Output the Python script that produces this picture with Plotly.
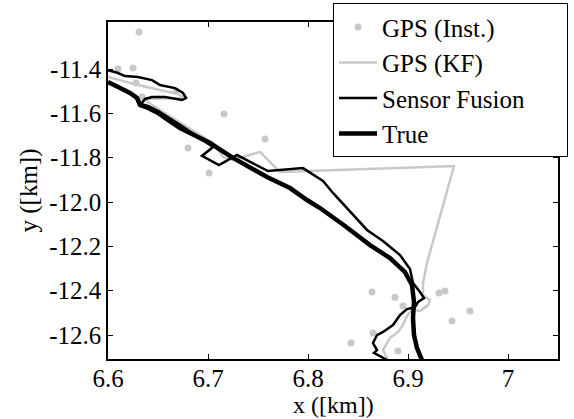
import plotly.graph_objects as go

# GPS instantaneous fixes
gps_inst_x = [6.631, 6.610, 6.625, 6.628, 6.634, 6.668, 6.716, 6.680, 6.701, 6.757,
              6.864, 6.887, 6.895, 6.931, 6.937, 6.962, 6.944, 6.865, 6.843, 6.890]
gps_inst_y = [-11.233, -11.400, -11.396, -11.463, -11.526, -11.499, -11.603, -11.756, -11.869, -11.716,
              -12.406, -12.429, -12.469, -12.410, -12.401, -12.492, -12.537, -12.591, -12.636, -12.672]

# GPS Kalman filtered
gps_kf_x = [6.600, 6.612, 6.630, 6.670, 6.676, 6.635, 6.652, 6.684, 6.705, 6.715, 6.725, 6.752, 6.772,
            6.946, 6.919, 6.915, 6.915, 6.922, 6.920, 6.912, 6.904, 6.899, 6.895, 6.890, 6.882, 6.879,
            6.875, 6.880]
gps_kf_y = [-11.436, -11.450, -11.472, -11.513, -11.531, -11.535, -11.585, -11.675, -11.734, -11.797,
            -11.810, -11.774, -11.865, -11.838, -12.275, -12.365, -12.420, -12.442, -12.465, -12.492,
            -12.483, -12.514, -12.555, -12.586, -12.613, -12.636, -12.668, -12.713]

# Sensor fusion
sf_x = [6.600, 6.610, 6.617, 6.630, 6.644, 6.652, 6.667, 6.675, 6.678, 6.674, 6.657, 6.644, 6.637,
        6.633, 6.640, 6.650, 6.672, 6.705, 6.694, 6.711, 6.729, 6.760, 6.795, 6.815, 6.825, 6.842,
        6.859, 6.875, 6.892, 6.902, 6.905, 6.912, 6.916, 6.910, 6.907, 6.899, 6.892, 6.885, 6.875,
        6.869, 6.865, 6.869, 6.866, 6.872, 6.879]
sf_y = [-11.405, -11.418, -11.432, -11.436, -11.450, -11.472, -11.486, -11.508, -11.531, -11.540,
        -11.526, -11.526, -11.535, -11.558, -11.567, -11.589, -11.652, -11.752, -11.792, -11.833,
        -11.788, -11.860, -11.847, -11.905, -11.959, -12.045, -12.126, -12.176, -12.239, -12.302,
        -12.365, -12.406, -12.433, -12.451, -12.474, -12.483, -12.510, -12.555, -12.586, -12.600,
        -12.636, -12.668, -12.681, -12.695, -12.713]

# True trajectory
true_x = [6.600, 6.610, 6.622, 6.629, 6.632, 6.640, 6.650, 6.657, 6.672, 6.702, 6.725, 6.759, 6.782,
          6.799, 6.812, 6.837, 6.862, 6.882, 6.897, 6.904, 6.906, 6.905, 6.906, 6.909, 6.914]
true_y = [-11.459, -11.481, -11.508, -11.531, -11.562, -11.576, -11.598, -11.621, -11.666, -11.734,
          -11.801, -11.887, -11.937, -11.991, -12.027, -12.108, -12.194, -12.253, -12.316, -12.374,
          -12.451, -12.523, -12.600, -12.659, -12.713]

x_ticks = [6.6, 6.7, 6.8, 6.9, 7.0]
x_tick_text = ["6.6", "6.7", "6.8", "6.9", "7"]
y_ticks = [-11.4, -11.6, -11.8, -12.0, -12.2, -12.4, -12.6]
y_tick_text = ["-11.4", "-11.6", "-11.8", "-12.0", "-12.2", "-12.4", "-12.6"]

GRAY = "#c8c8c8"
FONT = "Liberation Serif"
FS = 25
PAD = "\u00a0" * 6

fig = go.Figure()
fig.add_trace(go.Scatter(x=gps_inst_x, y=gps_inst_y, mode="markers", name="GPS (Inst.)",
                         marker=dict(color=GRAY, size=7, symbol="circle")))
fig.add_trace(go.Scatter(x=gps_kf_x, y=gps_kf_y, mode="lines", name="GPS (KF)",
                         line=dict(color=GRAY, width=2.5)))
fig.add_trace(go.Scatter(x=sf_x, y=sf_y, mode="lines", name="Sensor Fusion" + PAD,
                         line=dict(color="black", width=2.5)))
fig.add_trace(go.Scatter(x=true_x, y=true_y, mode="lines", name="True",
                         line=dict(color="black", width=4.5)))

axis_common = dict(showline=True, linecolor="black", linewidth=1.5, mirror="ticks",
                   ticks="inside", ticklen=5, tickcolor="black", showgrid=False, zeroline=False,
                   tickfont=dict(family=FONT, size=FS, color="black"))

fig.update_xaxes(range=[6.6, 7.05], tickvals=x_ticks, ticktext=x_tick_text,
                 ticklabelstandoff=-4, **axis_common)
fig.update_yaxes(range=[-12.708, -11.188], tickvals=y_ticks, ticktext=y_tick_text,
                 title=dict(text="y ([km])", font=dict(family=FONT, size=FS, color="black"), standoff=4),
                 **axis_common)

fig.add_annotation(text="x ([km])", xref="paper", yref="paper", x=0.5, y=-0.1365,
                   xanchor="center", yanchor="middle", showarrow=False,
                   font=dict(family=FONT, size=24, color="black"))

fig.update_layout(
    width=574, height=419,
    margin=dict(l=108, r=16, t=22, b=60, autoexpand=False),
    plot_bgcolor="white", paper_bgcolor="white",
    font=dict(family=FONT, color="black"),
    legend=dict(x=0.5, xanchor="left", y=1.056, yanchor="top",
                bgcolor="white", bordercolor="black", borderwidth=1,
                font=dict(family=FONT, size=FS, color="black"),
                itemwidth=38),
    showlegend=True,
)

fig.write_html("out.html", config={"displayModeBar": False},
               post_script="document.body.style.margin='0px';document.body.style.padding='0px';")
